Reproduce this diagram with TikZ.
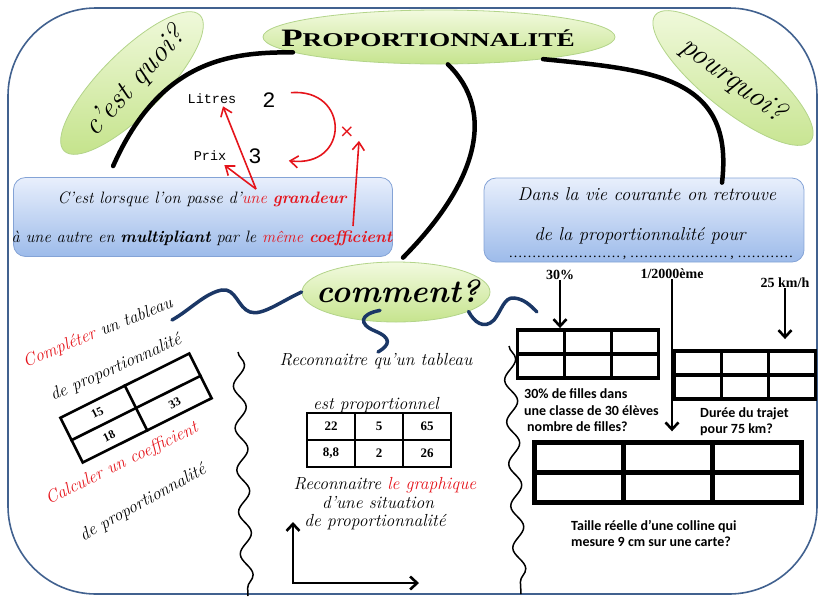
\documentclass[tikz,border=0pt]{standalone}
\usepackage{fontspec}
\newfontfamily\courierfont{Liberation Mono}
\newfontfamily\timesfont{Liberation Serif}
\newfontfamily\calibrifont{Carlito}
\newfontfamily\symbfont{DejaVu Sans}
\usepackage{xcolor}
\definecolor{framecol}{HTML}{41618F}
\definecolor{bubbletop}{HTML}{F2FADF}
\definecolor{bubblebot}{HTML}{C6E48E}
\definecolor{bubbleedge}{HTML}{B3D48A}
\definecolor{boxtop}{HTML}{E8EFFC}
\definecolor{boxbot}{HTML}{9DBBEA}
\definecolor{boxedge}{HTML}{84A3D6}
\definecolor{navy}{HTML}{1B3766}
\definecolor{mred}{HTML}{E5141B}
\usetikzlibrary{positioning,arrows.meta,shapes.geometric,decorations.pathmorphing,matrix,calc}

\begin{document}
\begin{tikzpicture}[x=1pt, y=-1pt,
    bubble/.style={ellipse, draw=bubbleedge, line width=0.8pt, top color=bubbletop, bottom color=bubblebot, inner sep=0pt},
    infobox/.style={draw=boxedge, line width=0.8pt, rounded corners=12pt, top color=boxtop, bottom color=boxbot},
    script/.style={font=\itshape\fontsize{17.5}{20}\selectfont, inner sep=0pt},
    branch/.style={line width=4.5pt, line cap=round},
    twig/.style={draw=navy, line width=3.5pt, line cap=round},
    redarrow/.style={draw=mred, line width=1.6pt, -{Straight Barb[length=8pt, width=12pt]}},
    bigarrow/.style={line width=2.6pt, -{Straight Barb[length=7pt, width=13pt]}},
    axes/.style={line width=2.6pt, {Straight Barb[length=7pt, width=13pt]}-{Straight Barb[length=7pt, width=13pt]}},
    wave/.style={line width=1.5pt, decorate, decoration={snake, segment length=42pt, amplitude=6pt}},
    celltab/.style={matrix of nodes, nodes in empty cells, inner sep=0pt, column sep=-#1, row sep=-#1, nodes={draw, line width=#1, anchor=center}},
    cellnum/.style={font=\timesfont\bfseries\fontsize{12}{12}\selectfont, inner sep=0pt},
    toplabel/.style={font=\timesfont\bfseries\fontsize{14}{14}\selectfont, anchor=base, inner sep=1pt},
    question/.style={font=\calibrifont\bfseries\fontsize{14}{15}\selectfont, anchor=base west, inner sep=0pt}]
  \useasboundingbox (0,0) rectangle (824,606);
  \draw[framecol, line width=1.6pt, rounded corners=88pt] (8,8) rectangle (817,594);

  % left column
  \node[script, rotate=22] (completer) at (98,333) {\textcolor{mred}{Compléter} un tableau};
  \node[script, rotate=24] (deProp1) at (116,368) {de proportionnalité};
  \node[draw, line width=2.6pt, rotate=26.5, minimum width=144pt, minimum height=50pt, inner sep=0pt] (tabL) at (136,408) {};
  \draw[line width=2.6pt] (tabL.north) -- (tabL.south);
  \draw[line width=2.6pt] (tabL.west) -- (tabL.east);
  \node[cellnum, rotate=26.5] (n15) at ($(tabL.center)!0.5!(tabL.north west)$) {15};
  \node[cellnum, rotate=26.5] (n18) at ($(tabL.center)!0.5!(tabL.south west)$) {18};
  \node[cellnum, rotate=26.5] (n33) at ($(tabL.center)!0.5!(tabL.south east)$) {33};
  \node[script, rotate=26, text=mred] (calculer) at (122,464) {Calculer un coefficient};
  \node[script, rotate=29] (deProp2) at (143,503) {de proportionnalité};

  % bubbles
  \node[bubble, minimum width=352pt, minimum height=54pt] (title) at (439,37) {};
  \node[font=\timesfont\bfseries, inner sep=0pt] (titleText) at (428,38)
    {\scalebox{1.4}[1]{\fontsize{25}{25}\selectfont P\fontsize{19.5}{20}\selectfont ROPORTIONNALITÉ}};
  \node[bubble, minimum width=192pt, minimum height=62pt, rotate=45] (quoi) at (132,83) {};
  \node[script, font=\itshape\fontsize{30}{30}\selectfont, rotate=48] (quoiText) at (135,82) {c’est quoi?};
  \node[bubble, minimum width=200pt, minimum height=62pt, rotate=-39] (pourquoi) at (733,78) {};
  \node[script, font=\itshape\fontsize{30}{30}\selectfont, rotate=-37] (pourquoiText) at (733,80) {pourquoi?};
  \node[bubble, minimum width=188pt, minimum height=60pt] (comment) at (396,292) {};
  \node[font=\bfseries\itshape\fontsize{32}{32}\selectfont] (commentText) at (398,291) {comment?};

  % blue boxes
  \node[infobox, minimum width=379pt, minimum height=79pt] (defBox) at (203,217) {};
  \node[script, anchor=base, font=\itshape\fontsize{16.5}{20}\selectfont] (defA) at (202,203)
    {C’est lorsque l’on passe d’\textcolor{mred}{une \textbf{grandeur}}};
  \node[script, anchor=base, font=\itshape\fontsize{16.5}{20}\selectfont] (defB) at (202,242)
    {à une autre en \textbf{multipliant} par le \textcolor{mred}{même \textbf{coefficient}}};
  \node[infobox, minimum width=320pt, minimum height=84pt] (vieBox) at (644,220) {};
  \node[script, anchor=base, font=\itshape\fontsize{18.5}{20}\selectfont] (vieA) at (647,200) {Dans la vie courante on retrouve};
  \node[script, anchor=base, font=\itshape\fontsize{18.5}{20}\selectfont] (vieB) at (640,240) {de la proportionnalité pour};
  \node[font=\timesfont\fontsize{14}{14}\selectfont, anchor=base, inner sep=0pt] (vieC) at (651,257)
    {……………………\,, …………………\,, …………};

  % branches from the title
  \draw[branch] (title.186) .. controls (230,52) and (160,60) .. ([xshift=100pt, yshift=11pt]defBox.north west);
  \draw[branch] (title.288) .. controls (495,110) and (480,180) .. ([xshift=7pt, yshift=4pt]comment.north);
  \draw[branch] (title.348) .. controls (650,70) and (735,75) .. ([xshift=78pt, yshift=-5pt]vieBox.north);

  % twigs from comment
  \coordinate (leftEnd) at (172,320);
  \coordinate (midEnd) at (378,352);
  \coordinate (rightEnd) at (537,312);
  \draw[twig] (comment.west) .. controls (280,302) and (262,316) .. (250,312)
    .. controls (238,308) and (236,288) .. (222,290) .. controls (205,293) and (190,310) .. (leftEnd);
  \draw[twig] ([xshift=-16pt, yshift=12pt]comment.south) .. controls (360,314) and (358,324) .. (375,331)
    .. controls (392,338) and (390,345) .. (midEnd);
  \draw[twig] (comment.-15) .. controls (474,322) and (484,330) .. (494,320)
    .. controls (502,310) and (504,297) .. (514,298) .. controls (524,299) and (530,305) .. (rightEnd);

  % litres / prix
  \node[font=\courierfont\fontsize{13.5}{14}\selectfont, anchor=base, inner sep=1pt] (litres) at (212,103) {Litres};
  \node[font=\courierfont\fontsize{22}{22}\selectfont, anchor=base, inner sep=1pt] (deux) at (269,107) {2};
  \node[font=\courierfont\fontsize{13.5}{14}\selectfont, anchor=base, inner sep=1pt] (prix) at (210,160) {Prix};
  \node[font=\courierfont\fontsize{22}{22}\selectfont, anchor=base, inner sep=1pt] (trois) at (255,163) {3};
  \node[font=\symbfont\fontsize{18}{18}\selectfont, text=mred] (fois) at (347,132) {×};
  \coordinate (uneMark) at (256,189);
  \coordinate (coefMark) at (353,226);
  \draw[redarrow] ([xshift=14pt, yshift=7pt]deux.east) .. controls (350,88) and (350,168) .. ([xshift=26pt, yshift=-5pt]trois.east);
  \draw[redarrow] (uneMark) -- ([xshift=11pt, yshift=-2pt]litres.south);
  \draw[redarrow] (uneMark) -- ([xshift=-3pt, yshift=-4pt]prix.south east);
  \draw[redarrow] (coefMark) -- ([xshift=12pt]fois.south);

  % separators
  \draw[wave] (238,352) -- (248,596);
  \draw[wave] (509,346) -- (521,594);

  % middle column
  \node[script, anchor=base] (reconA) at (376,365) {Reconnaitre qu’un tableau};
  \node[script, anchor=base] (estProp) at (376,409) {est proportionnel};
  \matrix (tabM) [celltab=2.6pt, nodes={minimum width=48pt, minimum height=27pt, font=\timesfont\bfseries\fontsize{13}{13}\selectfont}] at (379,440)
    {22 & 5 & 65\\ 8,8 & 2 & 26\\};
  \node[script, anchor=base] (reconB) at (385,489) {Reconnaitre \textcolor{mred}{le graphique}};
  \node[script, anchor=base] (situation) at (378,508) {d’une situation};
  \node[script, anchor=base] (deProp3) at (375,526) {de proportionnalité};
  \coordinate (origin) at (293,583);
  \coordinate (yTip) at (293,522);
  \coordinate (xTip) at (419,583);
  \draw[axes] (yTip) -- (origin) -- (xTip);

  % right column
  \node[toplabel] (lbl30) at (560,279) {30\%};
  \node[toplabel] (lbl2000) at (672,278) {1/2000ème};
  \node[toplabel] (lbl25) at (785,287) {25 km/h};
  \matrix (tabA) [celltab=3.5pt, nodes={minimum width=47pt, minimum height=24pt}] at (588,354) {&&\\&&\\};
  \matrix (tabB) [celltab=3.5pt, nodes={minimum width=47pt, minimum height=24pt}] at (745,375) {&&\\&&\\};
  \matrix (tabC) [celltab=5pt, nodes={minimum width=89pt, minimum height=30pt}] at (668,472) {&&\\&&\\};
  \draw[bigarrow] (lbl30.south) -- (lbl30.south |- tabA.north);
  \draw[bigarrow, shorten >=8pt] (lbl2000.south) -- (lbl2000.south |- tabC.north);
  \draw[bigarrow, shorten >=10pt] (lbl25.south) -- (lbl25.south |- tabB.north);
  \node[question] (fillesA) at (524,398) {30\% de filles dans};
  \node[question] (fillesB) at (524,415) {une classe de 30 élèves};
  \node[question] (fillesC) at (527,431) {nombre de filles?};
  \node[question] (trajetA) at (700,417) {Durée du trajet};
  \node[question] (trajetB) at (700,433) {pour 75 km?};
  \node[question] (collineA) at (571,530) {Taille réelle d’une colline qui};
  \node[question] (collineB) at (571,546) {mesure 9 cm sur une carte?};
\end{tikzpicture}
\end{document}
